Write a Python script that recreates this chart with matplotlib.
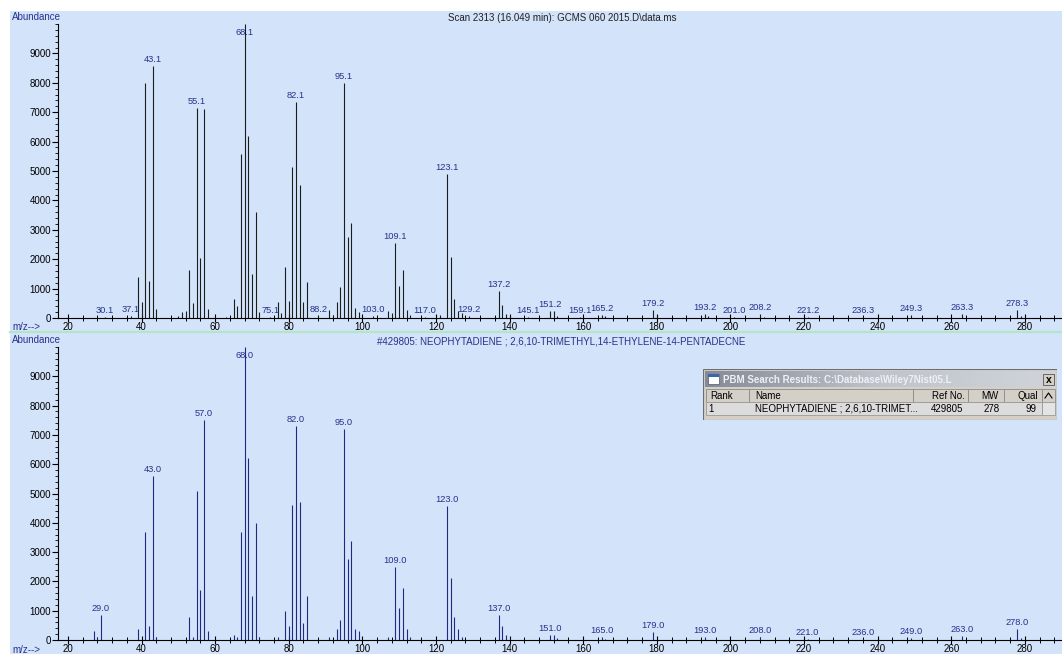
import matplotlib
matplotlib.use("Agg")
import matplotlib.pyplot as plt
import numpy as np
from matplotlib.ticker import MultipleLocator
from matplotlib.patches import Rectangle
from matplotlib.lines import Line2D
from matplotlib import font_manager

W, H = 1062, 654
BG = '#d3e3fa'
LABEL = '#28328c'

names = {f.name for f in font_manager.fontManager.ttflist}
FONT = 'Liberation Sans Narrow' if 'Liberation Sans Narrow' in names else 'Liberation Sans'
plt.rcParams['font.family'] = [FONT, 'DejaVu Sans']

# sample spectrum (scan 2313)
top_mz = [30, 37, 39, 40, 41, 42, 43, 44, 50, 51, 52, 53, 54, 55, 56, 57, 58, 63,
          65, 66, 67, 68, 69, 70, 71, 72, 75, 77, 78, 79, 80, 81, 82, 83, 84, 85,
          88, 91, 92, 93, 94, 95, 96, 97, 98, 99, 103, 107, 108, 109, 110, 111,
          112, 113, 117, 121, 123, 124, 125, 126, 127, 129, 137, 138, 139, 140,
          145, 151, 152, 153, 159, 165, 166, 179, 180, 193, 194, 201, 208, 209,
          221, 236, 249, 263, 278, 279]
top_ab = [40, 60, 1400, 540, 8000, 1270, 8580, 300, 80, 220, 250, 1640, 520, 7130,
          2040, 7110, 320, 50, 660, 420, 5570, 9990, 6200, 1500, 3620, 200, 50,
          540, 170, 1750, 590, 5120, 7330, 4530, 550, 1220, 70, 280, 110, 530,
          1050, 7980, 2740, 3230, 340, 190, 60, 230, 170, 2550, 1080, 1640, 260,
          110, 50, 90, 4890, 2060, 650, 230, 170, 60, 930, 430, 140, 60, 40, 230,
          230, 80, 50, 110, 60, 260, 60, 150, 60, 40, 130, 50, 50, 50, 100, 130,
          260, 80]
top_lab_mz = [30, 37, 43, 55, 68, 75, 82, 88, 95, 103, 109, 117, 123, 129, 137,
              145, 151, 159, 165, 179, 193, 201, 208, 221, 236, 249, 263, 278]
top_lab = ['30.1', '37.1', '43.1', '55.1', '68.1', '75.1', '82.1', '88.2', '95.1',
           '103.0', '109.1', '117.0', '123.1', '129.2', '137.2', '145.1', '151.2',
           '159.1', '165.2', '179.2', '193.2', '201.0', '208.2', '221.2', '236.3',
           '249.3', '263.3', '278.3']

# library spectrum (#429805)
bot_mz = [27, 28, 29, 39, 41, 42, 43, 44, 53, 54, 55, 56, 57, 58, 65, 66, 67, 68,
          69, 70, 71, 72, 77, 79, 80, 81, 82, 83, 84, 85, 91, 93, 94, 95, 96, 97,
          98, 99, 107, 109, 110, 111, 112, 113, 123, 124, 125, 126, 127, 137, 138,
          139, 140, 151, 152, 153, 165, 166, 179, 193, 208, 221, 236, 249, 263,
          278, 279]
bot_ab = [300, 90, 870, 380, 3690, 490, 5600, 90, 800, 90, 5100, 1700, 7500, 310,
          170, 90, 3690, 9990, 6200, 1500, 4010, 90, 90, 990, 480, 4600, 7300,
          4700, 570, 1500, 90, 380, 680, 7190, 2780, 3390, 380, 300, 90, 2480,
          1080, 1780, 380, 90, 4580, 2100, 800, 380, 90, 870, 480, 170, 50, 170,
          170, 60, 90, 50, 280, 100, 100, 50, 50, 60, 150, 380, 60]
bot_lab_mz = [29, 43, 57, 68, 82, 95, 109, 123, 137, 151, 165, 179, 193, 208, 221,
              236, 249, 263, 278]
bot_lab = ['29.0', '43.0', '57.0', '68.0', '82.0', '95.0', '109.0', '123.0',
           '137.0', '151.0', '165.0', '179.0', '193.0', '208.0', '221.0', '236.0',
           '249.0', '263.0', '278.0']

top_title = r"Scan 2313 (16.049 min): GCMS 060 2015.D\data.ms"
bot_title = "#429805: NEOPHYTADIENE ; 2,6,10-TRIMETHYL,14-ETHYLENE-14-PENTADECNE"

fig = plt.figure(figsize=(W / 100, H / 100), dpi=100)
fig.patch.set_facecolor('white')
fig.add_artist(Rectangle((10 / W, 0), 1 - 10 / W, 1 - 11 / H, transform=fig.transFigure,
                         facecolor=BG, edgecolor='none', zorder=-5))
fig.add_artist(Line2D([10 / W, 1], [1 - 332 / H] * 2, transform=fig.transFigure,
                      color='#b2e6c6', lw=1.6))


def px_axes(left, top, right, bottom):
    return fig.add_axes([left / W, 1 - bottom / H, (right - left) / W, (bottom - top) / H])


def spectrum(ax, mz, ab, lab_mz, lab, color):
    ax.set_facecolor('none')
    ax.vlines(mz, 0, ab, color=color, lw=0.8)
    lookup = dict(zip(mz, ab))
    for m, t in zip(lab_mz, lab):
        y = min(lookup[m], 9500)
        ax.annotate(t, (m, y), xytext=(0, 2), textcoords='offset pixels',
                    ha='center', va='bottom', fontsize=6.7, color=LABEL)
    ax.set_xlim(17.3, 290.1)
    ax.set_ylim(0, 10000)
    ax.set_yticks(np.arange(0, 10000, 1000))
    ax.yaxis.set_minor_locator(MultipleLocator(200))
    ax.xaxis.set_major_locator(MultipleLocator(20))
    ax.xaxis.set_minor_locator(MultipleLocator(4))
    for s in ['top', 'right']:
        ax.spines[s].set_visible(False)
    for s in ['left', 'bottom']:
        ax.spines[s].set_linewidth(0.8)
    ax.tick_params(axis='x', which='major', direction='inout', length=6, width=0.8,
                   labelsize=7, pad=0)
    ax.tick_params(axis='x', which='minor', direction='inout', length=4, width=0.7)
    ax.tick_params(axis='y', which='major', direction='out', length=4, width=0.8,
                   labelsize=7, pad=1)
    ax.tick_params(axis='y', which='minor', direction='out', length=2, width=0.6)


ax1 = px_axes(58, 24, 1062, 318)
spectrum(ax1, top_mz, top_ab, top_lab_mz, top_lab, '#1c1c1c')
ax2 = px_axes(58, 347, 1062, 640)
spectrum(ax2, bot_mz, bot_ab, bot_lab_mz, bot_lab, '#1e2a80')

fig.text(12 / W, 1 - 17 / H, 'Abundance', fontsize=7, color=LABEL, va='center')
fig.text(12 / W, 1 - 340 / H, 'Abundance', fontsize=7, color=LABEL, va='center')
fig.text(12 / W, 1 - 327 / H, 'm/z-->', fontsize=7, color=LABEL, va='center')
fig.text(12 / W, 1 - 650 / H, 'm/z-->', fontsize=7, color=LABEL, va='center')
fig.text(562 / W, 1 - 18 / H, top_title, fontsize=7, color='#202020',
         ha='center', va='center')
fig.text(561 / W, 1 - 341 / H, bot_title, fontsize=7, color=LABEL,
         ha='center', va='center')

# PBM search results window
bx = px_axes(703, 369, 1057, 420)
bx.set_xlim(0, 354)
bx.set_ylim(51, 0)
bx.axis('off')
bx.add_patch(Rectangle((0, 0), 354, 51, facecolor='#d4d0c8', edgecolor='#6e6e6e', lw=0.8))
grad = np.linspace(0, 1, 256).reshape(1, -1)
bx.imshow(grad, extent=(2, 352, 18, 2), cmap=matplotlib.colors.LinearSegmentedColormap.from_list(
    'tb', ['#848b96', '#bfc4cc', '#d0d4da']), aspect='auto', zorder=1)
bx.add_patch(Rectangle((5, 5), 11, 10, facecolor='white', edgecolor='#5a6a8a', lw=0.6, zorder=2))
bx.add_patch(Rectangle((5, 5), 11, 3, facecolor='#3a64b0', edgecolor='none', zorder=2))
bx.text(20, 10.5, r"PBM Search Results: C:\Database\Wiley7Nist05.L", fontsize=7,
        fontweight='bold', color='#eef0f4', va='center', zorder=3)
bx.add_patch(Rectangle((340, 5), 11, 11, facecolor='#d4d0c8', edgecolor='#555555', lw=0.6, zorder=2))
bx.text(345.5, 10.5, 'x', fontsize=7.5, fontweight='bold', ha='center', va='center', zorder=3)

cols = [(3, 46), (46, 210), (210, 265), (265, 301), (301, 339)]
for a, b in cols:
    bx.add_patch(Rectangle((a, 20), b - a, 13, facecolor='#d4d0c8', edgecolor='#8a8a8a', lw=0.6))
bx.add_patch(Rectangle((3, 33), 336, 13, facecolor='#dcdcdc', edgecolor='#9a9a9a', lw=0.6))
bx.add_patch(Rectangle((339, 20), 13, 13, facecolor='#d4d0c8', edgecolor='#8a8a8a', lw=0.6))
bx.add_patch(Rectangle((339, 33), 13, 13, facecolor='#e4e4e4', edgecolor='#9a9a9a', lw=0.6))
bx.plot([342, 345.5, 349], [29, 24, 29], color='black', lw=0.8)

header = [('Rank', 7, 'left'), ('Name', 52, 'left'), ('Ref No.', 262, 'right'),
          ('MW', 296, 'right'), ('Qual', 335, 'right')]
row = [('1', 5, 'left'), ('NEOPHYTADIENE ; 2,6,10-TRIMET...', 52, 'left'),
       ('429805', 260, 'right'), ('278', 297, 'right'), ('99', 334, 'right')]
for t, x, ha in header:
    bx.text(x, 26.5, t, fontsize=7, ha=ha, va='center', color='black')
for t, x, ha in row:
    bx.text(x, 39.5, t, fontsize=7, ha=ha, va='center', color='black')

fig.savefig('out.png', dpi=100, facecolor=fig.get_facecolor())
